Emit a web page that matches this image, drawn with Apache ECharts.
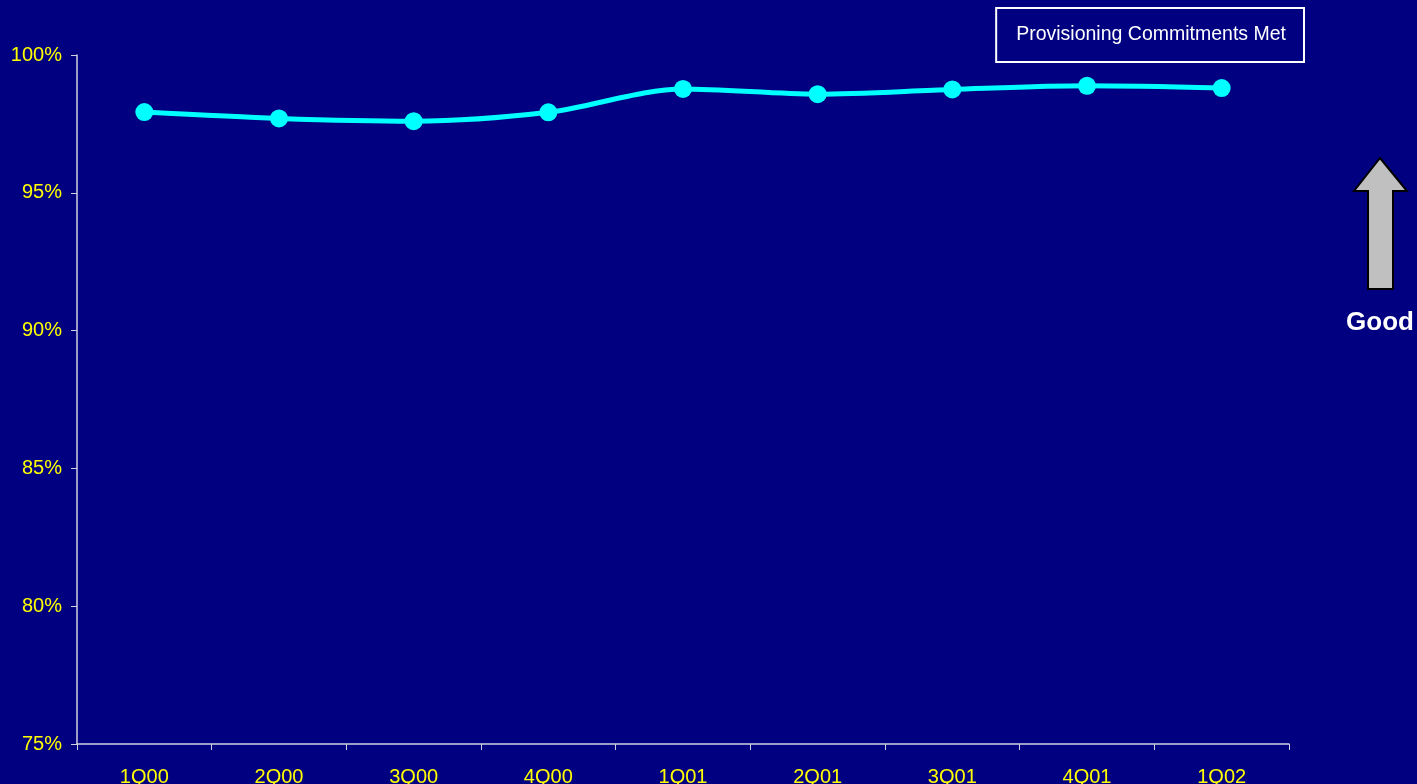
<!DOCTYPE html>
<html>
<head>
<meta charset="utf-8">
<script src="https://cdn.jsdelivr.net/npm/echarts@6/dist/echarts.min.js"></script>
<style>
html,body{margin:0;padding:0;background:#000080;}
#chart{width:1417px;height:784px;}
</style>
</head>
<body>
<div id="chart"></div>
<script>
const categories = ['1Q00','2Q00','3Q00','4Q00','1Q01','2Q01','3Q01','4Q01','1Q02'];
const seriesName = 'Provisioning Commitments Met';
const provisioningMet = [97.93, 97.7, 97.6, 97.92, 98.77, 98.58, 98.75, 98.88, 98.8];
const yTicks = [75, 80, 85, 90, 95, 100];

const chart = echarts.init(document.getElementById('chart'));
chart.setOption({
  backgroundColor: '#000080',
  animation: false,
  grid: { left: 77, right: 128, top: 55, bottom: 40, containLabel: false, outerBoundsMode: 'none' },
  legend: {
    data: [{ name: seriesName, icon: 'none' }],
    right: 113, top: 8,
    itemWidth: 0, itemHeight: 0,
    borderColor: '#ffffff', borderWidth: 2,
    padding: [17, 18, 17, 15],
    textStyle: { color: '#ffffff', fontSize: 19.5, fontFamily: 'Liberation Sans, Arial, sans-serif' },
    selectedMode: false
  },
  xAxis: {
    type: 'category',
    data: categories,
    boundaryGap: true,
    axisLine: { lineStyle: { color: '#d0d0e0', width: 1.5 } },
    axisTick: { show: true, length: 6, lineStyle: { color: '#d0d0e0' } },
    axisLabel: { color: '#ffff00', fontSize: 20, margin: 23, fontFamily: 'Liberation Sans, Arial, sans-serif' }
  },
  yAxis: {
    type: 'value',
    min: yTicks[0], max: yTicks[yTicks.length - 1], interval: 5,
    axisLine: { show: true, lineStyle: { color: '#d0d0e0', width: 1.5 } },
    axisTick: { show: true, length: 6, lineStyle: { color: '#d0d0e0' } },
    splitLine: { show: false },
    axisLabel: { color: '#ffff00', fontSize: 20, margin: 15, formatter: '{value}%', fontFamily: 'Liberation Sans, Arial, sans-serif' }
  },
  series: [{
    name: seriesName,
    type: 'line',
    data: provisioningMet,
    smooth: 0.3,
    symbol: 'circle',
    symbolSize: 18,
    itemStyle: { color: '#00ffff' },
    lineStyle: { color: '#00ffff', width: 5 }
  }],
  graphic: [
    {
      type: 'polygon',
      shape: { points: [[1380,158],[1407,191],[1393,191],[1393,289],[1368,289],[1368,191],[1354,191]] },
      style: { fill: '#c0c0c0', stroke: '#000000', lineWidth: 2 }
    },
    {
      type: 'text',
      x: 1380, y: 323,
      style: { text: 'Good', fill: '#ffffff', font: 'bold 26px Liberation Sans, Arial, sans-serif', textAlign: 'center', textVerticalAlign: 'middle' }
    }
  ]
});
</script>
</body>
</html>
